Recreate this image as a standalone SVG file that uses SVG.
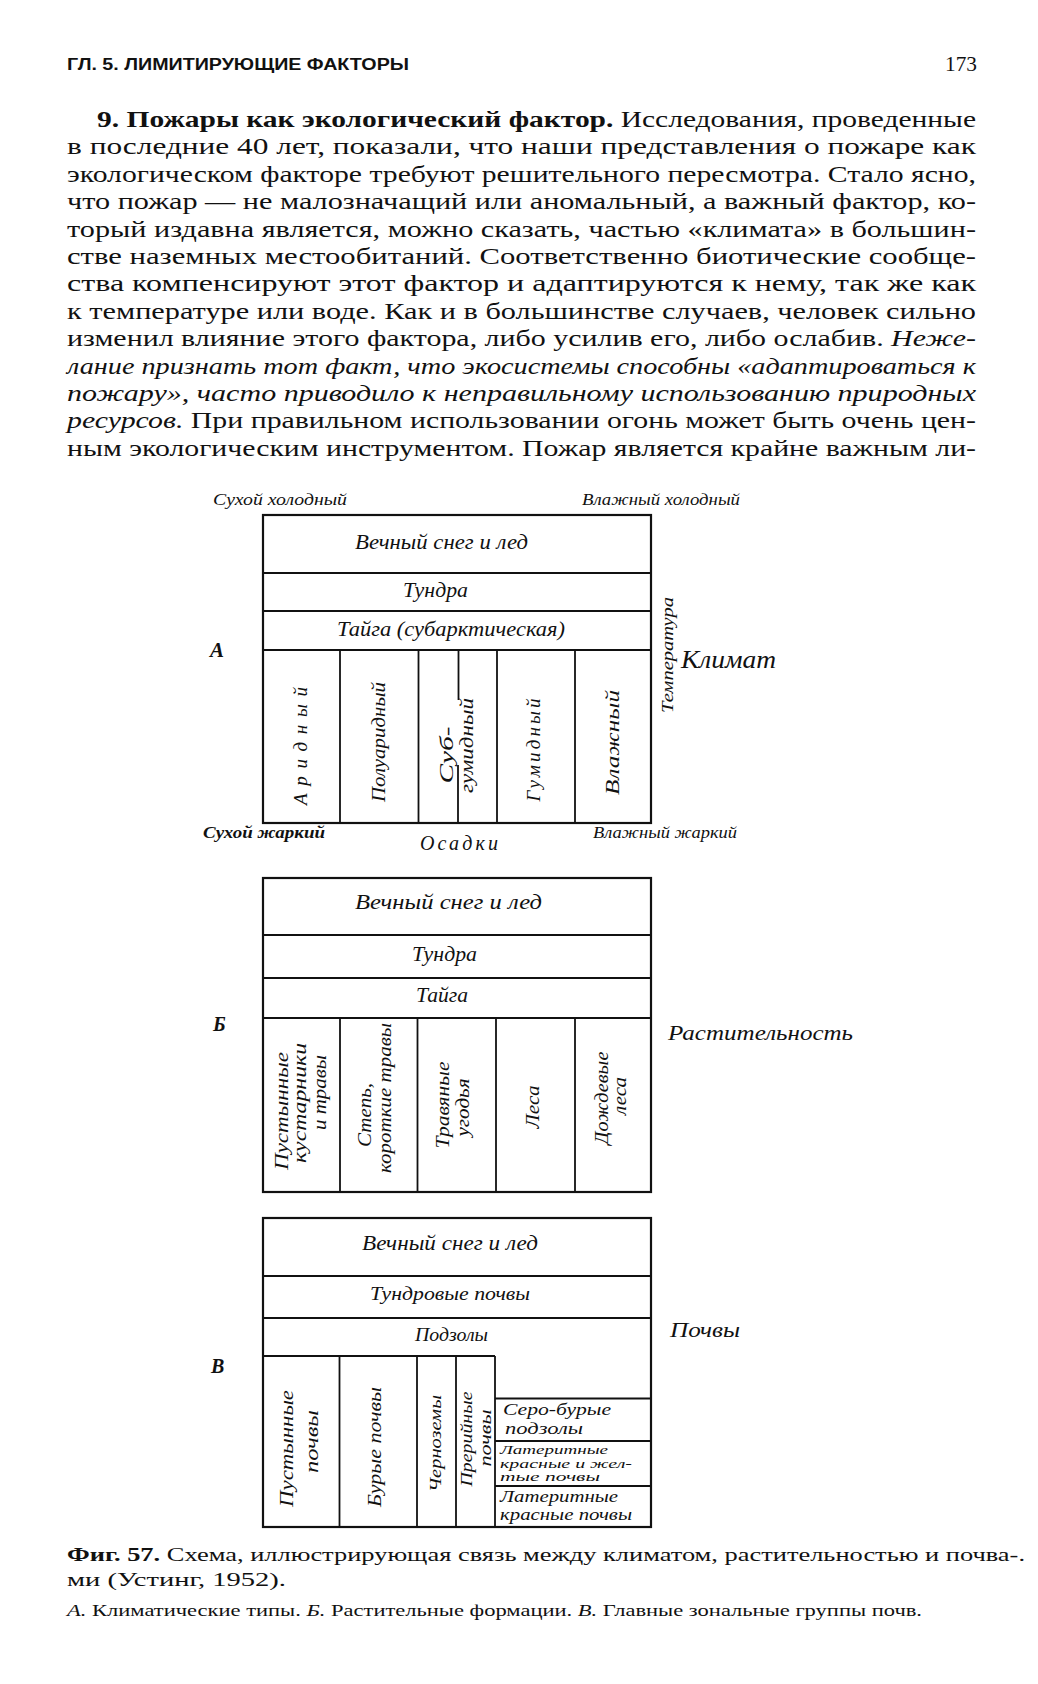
<svg xmlns="http://www.w3.org/2000/svg" width="1038" height="1684" viewBox="0 0 1038 1684">
<style>
  .body{font-family:"Liberation Serif","Times New Roman",serif;font-size:24px;fill:#111}
  .bold{font-weight:bold}
  .it{font-style:italic}
  .hdr{font-family:"Liberation Sans",Arial,sans-serif;font-size:16px;font-weight:bold;fill:#111}
  .lab{font-family:"Liberation Serif","Times New Roman",serif;font-style:italic;fill:#111}
  .c{text-anchor:middle}
  .v{text-anchor:middle;dominant-baseline:central}
  .frame{fill:none;stroke:#111;stroke-width:2.2}
  .ln{stroke:#111;stroke-width:1.8;fill:none}
  .cap{font-family:"Liberation Serif","Times New Roman",serif;font-size:19px;fill:#111}
  .cap2{font-family:"Liberation Serif","Times New Roman",serif;font-size:16px;fill:#111}
</style>
<rect x="0" y="0" width="1038" height="1684" fill="#fff"/>

<g id="header">
  <text class="hdr" x="67" y="70" textLength="342" lengthAdjust="spacingAndGlyphs">ГЛ. 5. ЛИМИТИРУЮЩИЕ ФАКТОРЫ</text>
  <text class="body" x="945" y="71" textLength="32" lengthAdjust="spacingAndGlyphs" style="font-size:21px">173</text>
</g>

<g id="paragraph" class="body">
  <text x="97" y="127" textLength="879" lengthAdjust="spacingAndGlyphs"><tspan class="bold">9. Пожары как экологический фактор.</tspan> Исследования, проведенные</text>
  <text x="67" y="154.4" textLength="909" lengthAdjust="spacingAndGlyphs">в последние 40 лет, показали, что наши представления о пожаре как</text>
  <text x="67" y="181.8" textLength="909" lengthAdjust="spacingAndGlyphs">экологическом факторе требуют решительного пересмотра. Стало ясно,</text>
  <text x="67" y="209.2" textLength="909" lengthAdjust="spacingAndGlyphs">что пожар — не малозначащий или аномальный, а важный фактор, ко-</text>
  <text x="67" y="236.6" textLength="909" lengthAdjust="spacingAndGlyphs">торый издавна является, можно сказать, частью «климата» в большин-</text>
  <text x="67" y="264" textLength="909" lengthAdjust="spacingAndGlyphs">стве наземных местообитаний. Соответственно  биотические  сообще-</text>
  <text x="67" y="291.4" textLength="909" lengthAdjust="spacingAndGlyphs">ства компенсируют этот фактор и адаптируются к нему, так же как</text>
  <text x="67" y="318.8" textLength="909" lengthAdjust="spacingAndGlyphs">к температуре или воде. Как и в большинстве случаев, человек сильно</text>
  <text x="67" y="346.2" textLength="909" lengthAdjust="spacingAndGlyphs">изменил влияние этого фактора, либо усилив его, либо ослабив. <tspan class="it">Неже-</tspan></text>
  <text x="67" y="373.6" textLength="909" lengthAdjust="spacingAndGlyphs" class="it">лание признать тот факт, что экосистемы способны «адаптироваться к</text>
  <text x="67" y="401" textLength="909" lengthAdjust="spacingAndGlyphs" class="it">пожару», часто приводило к неправильному использованию природных</text>
  <text x="67" y="428.4" textLength="909" lengthAdjust="spacingAndGlyphs"><tspan class="it">ресурсов.</tspan> При правильном использовании огонь может быть очень цен-</text>
  <text x="67" y="455.8" textLength="909" lengthAdjust="spacingAndGlyphs">ным экологическим инструментом. Пожар является крайне важным ли-</text>
</g>

<!-- ===== Panel A ===== -->
<g id="panelA-lines">
  <rect class="frame" x="263" y="515" width="388" height="308"/>
  <line class="ln" x1="263" y1="573" x2="651" y2="573"/>
  <line class="ln" x1="263" y1="611" x2="651" y2="611"/>
  <line class="ln" x1="263" y1="650" x2="651" y2="650"/>
  <line class="ln" x1="340" y1="650" x2="340" y2="823"/>
  <line class="ln" x1="418.5" y1="650" x2="418.5" y2="823"/>
  <line class="ln" x1="458.5" y1="650" x2="458.5" y2="700"/>
  <line class="ln" x1="458" y1="765" x2="458" y2="823"/>
  <line class="ln" x1="497" y1="650" x2="497" y2="823"/>
  <line class="ln" x1="575" y1="650" x2="575" y2="823"/>
</g>
<g id="panelA-labels" class="lab">
  <text x="213" y="505" textLength="134" lengthAdjust="spacingAndGlyphs" style="font-size:17px">Сухой холодный</text>
  <text x="582" y="505" textLength="158" lengthAdjust="spacingAndGlyphs" style="font-size:17px">Влажный холодный</text>
  <text x="210" y="657" style="font-size:21px;font-weight:bold">А</text>
  <text x="203" y="838" textLength="122" lengthAdjust="spacingAndGlyphs" style="font-size:17px;font-weight:bold">Сухой жаркий</text>
  <text x="420" y="850" textLength="78" lengthAdjust="spacing" style="font-size:20px">Осадки</text>
  <text x="593" y="838" textLength="144" lengthAdjust="spacingAndGlyphs" style="font-size:17px">Влажный жаркий</text>
  <text class="v" x="667" y="655" transform="rotate(-90 667 655)" textLength="116" lengthAdjust="spacingAndGlyphs" style="font-size:17px">Температура</text>
  <text x="681" y="668" textLength="95" lengthAdjust="spacingAndGlyphs" style="font-size:26px">Климат</text>
</g>
<g id="A-snow" class="lab"><text x="355" y="549" textLength="173" lengthAdjust="spacingAndGlyphs" style="font-size:20px">Вечный  снег и лед</text></g>
<g id="A-tundra" class="lab"><text x="403" y="597" textLength="65" lengthAdjust="spacingAndGlyphs" style="font-size:20px">Тундра</text></g>
<g id="A-taiga" class="lab"><text x="337" y="636" textLength="228" lengthAdjust="spacingAndGlyphs" style="font-size:20px">Тайга (субарктическая)</text></g>
<g id="A-arid" class="lab"><text class="v" x="300" y="746" transform="rotate(-90 300 746)" textLength="118" lengthAdjust="spacing" style="font-size:19px">Аридный</text></g>
<g id="A-semiarid" class="lab"><text class="v" x="378" y="742" transform="rotate(-90 378 742)" textLength="120" lengthAdjust="spacingAndGlyphs" style="font-size:19px">Полуаридный</text></g>
<g id="A-subhumid" class="lab">
  <text class="v" x="446.5" y="755" transform="rotate(-90 446.5 755)" textLength="57" lengthAdjust="spacingAndGlyphs" style="font-size:18px">Суб-</text>
  <text class="v" x="467" y="745.5" transform="rotate(-90 467 745.5)" textLength="95" lengthAdjust="spacingAndGlyphs" style="font-size:18px">гумидный</text>
</g>
<g id="A-humid" class="lab"><text class="v" x="533" y="750" transform="rotate(-90 533 750)" textLength="103" lengthAdjust="spacing" style="font-size:19px">Гумидный</text></g>
<g id="A-wet" class="lab"><text class="v" x="612" y="742.5" transform="rotate(-90 612 742.5)" textLength="105" lengthAdjust="spacingAndGlyphs" style="font-size:19px">Влажный</text></g>

<!-- ===== Panel B ===== -->
<g id="panelB-lines">
  <rect class="frame" x="263" y="878" width="388" height="314"/>
  <line class="ln" x1="263" y1="935" x2="651" y2="935"/>
  <line class="ln" x1="263" y1="978" x2="651" y2="978"/>
  <line class="ln" x1="263" y1="1018" x2="651" y2="1018"/>
  <line class="ln" x1="340" y1="1018" x2="340" y2="1192"/>
  <line class="ln" x1="417.5" y1="1018" x2="417.5" y2="1192"/>
  <line class="ln" x1="496" y1="1018" x2="496" y2="1192"/>
  <line class="ln" x1="575" y1="1018" x2="575" y2="1192"/>
</g>
<g id="panelB-labels" class="lab">
  <text x="213" y="1031" style="font-size:20px;font-weight:bold">Б</text>
  <text x="668" y="1040" textLength="185" lengthAdjust="spacingAndGlyphs" style="font-size:22px">Растительность</text>
</g>
<g id="B-snow" class="lab"><text x="355" y="909" textLength="187" lengthAdjust="spacingAndGlyphs" style="font-size:20px">Вечный  снег и лед</text></g>
<g id="B-tundra" class="lab"><text x="412" y="961" textLength="65" lengthAdjust="spacingAndGlyphs" style="font-size:20px">Тундра</text></g>
<g id="B-taiga" class="lab"><text x="416" y="1002" textLength="52" lengthAdjust="spacingAndGlyphs" style="font-size:20px">Тайга</text></g>
<g id="B-desert" class="lab">
  <text class="v" x="282" y="1111" transform="rotate(-90 282 1111)" textLength="118" lengthAdjust="spacingAndGlyphs" style="font-size:18px">Пустынные</text>
  <text class="v" x="300" y="1103" transform="rotate(-90 300 1103)" textLength="120" lengthAdjust="spacingAndGlyphs" style="font-size:18px">кустарники</text>
  <text class="v" x="320" y="1092.5" transform="rotate(-90 320 1092.5)" textLength="75" lengthAdjust="spacingAndGlyphs" style="font-size:18px">и травы</text>
</g>
<g id="B-steppe" class="lab">
  <text class="v" x="365" y="1115" transform="rotate(-90 365 1115)" textLength="64" lengthAdjust="spacingAndGlyphs" style="font-size:18px">Степь,</text>
  <text class="v" x="385" y="1098" transform="rotate(-90 385 1098)" textLength="150" lengthAdjust="spacingAndGlyphs" style="font-size:18px">короткие травы</text>
</g>
<g id="B-grass" class="lab">
  <text class="v" x="443" y="1105" transform="rotate(-90 443 1105)" textLength="87" lengthAdjust="spacingAndGlyphs" style="font-size:18px">Травяные</text>
  <text class="v" x="463" y="1107.5" transform="rotate(-90 463 1107.5)" textLength="58" lengthAdjust="spacingAndGlyphs" style="font-size:18px">угодья</text>
</g>
<g id="B-forest" class="lab"><text class="v" x="533" y="1107" transform="rotate(-90 533 1107)" textLength="43" lengthAdjust="spacingAndGlyphs" style="font-size:18px">Леса</text></g>
<g id="B-rain" class="lab">
  <text class="v" x="601.5" y="1098" transform="rotate(-90 601.5 1098)" textLength="93" lengthAdjust="spacingAndGlyphs" style="font-size:18px">Дождевые</text>
  <text class="v" x="620" y="1096" transform="rotate(-90 620 1096)" textLength="38" lengthAdjust="spacingAndGlyphs" style="font-size:18px">леса</text>
</g>

<!-- ===== Panel C ===== -->
<g id="panelC-lines">
  <rect class="frame" x="263" y="1218" width="388" height="309"/>
  <line class="ln" x1="263" y1="1276" x2="651" y2="1276"/>
  <line class="ln" x1="263" y1="1318" x2="651" y2="1318"/>
  <line class="ln" x1="263" y1="1356" x2="495" y2="1356"/>
  <line class="ln" x1="339.5" y1="1356" x2="339.5" y2="1527"/>
  <line class="ln" x1="417" y1="1356" x2="417" y2="1527"/>
  <line class="ln" x1="456" y1="1356" x2="456" y2="1527"/>
  <line class="ln" x1="495" y1="1356" x2="495" y2="1527"/>
  <line class="ln" x1="495" y1="1398.5" x2="651" y2="1398.5"/>
  <line class="ln" x1="495" y1="1441" x2="651" y2="1441"/>
  <line class="ln" x1="495" y1="1486" x2="651" y2="1486"/>
</g>
<g id="panelC-labels" class="lab">
  <text x="211" y="1373" style="font-size:20px;font-weight:bold">В</text>
  <text x="670" y="1337" textLength="70" lengthAdjust="spacingAndGlyphs" style="font-size:21px">Почвы</text>
</g>
<g id="C-snow" class="lab"><text x="362" y="1250" textLength="176" lengthAdjust="spacingAndGlyphs" style="font-size:20px">Вечный  снег и лед</text></g>
<g id="C-tundra" class="lab"><text x="370" y="1300" textLength="160" lengthAdjust="spacingAndGlyphs" style="font-size:19px">Тундровые почвы</text></g>
<g id="C-podzol" class="lab"><text x="415" y="1341" textLength="73" lengthAdjust="spacingAndGlyphs" style="font-size:19px">Подзолы</text></g>
<g id="C-desert" class="lab">
  <text class="v" x="287" y="1448.5" transform="rotate(-90 287 1448.5)" textLength="117" lengthAdjust="spacingAndGlyphs" style="font-size:18px">Пустынные</text>
  <text class="v" x="311.5" y="1441.5" transform="rotate(-90 311.5 1441.5)" textLength="63" lengthAdjust="spacingAndGlyphs" style="font-size:18px">почвы</text>
</g>
<g id="C-brown" class="lab"><text class="v" x="375" y="1447" transform="rotate(-90 375 1447)" textLength="120" lengthAdjust="spacingAndGlyphs" style="font-size:18px">Бурые  почвы</text></g>
<g id="C-chern" class="lab"><text class="v" x="435" y="1443.5" transform="rotate(-90 435 1443.5)" textLength="97" lengthAdjust="spacingAndGlyphs" style="font-size:17px">Черноземы</text></g>
<g id="C-prairie" class="lab">
  <text class="v" x="466.5" y="1439" transform="rotate(-90 466.5 1439)" textLength="95" lengthAdjust="spacingAndGlyphs" style="font-size:17px">Прерийные</text>
  <text class="v" x="485" y="1438" transform="rotate(-90 485 1438)" textLength="57" lengthAdjust="spacingAndGlyphs" style="font-size:17px">почвы</text>
</g>
<g id="C-greybrown" class="lab">
  <text x="503" y="1415" textLength="108" lengthAdjust="spacingAndGlyphs" style="font-size:17px">Серо-бурые</text>
  <text x="505" y="1434" textLength="78" lengthAdjust="spacingAndGlyphs" style="font-size:17px">подзолы</text>
</g>
<g id="C-lat-ry" class="lab">
  <text x="500" y="1454" textLength="108" lengthAdjust="spacingAndGlyphs" style="font-size:12.5px">Латеритные</text>
  <text x="500" y="1467.5" textLength="132" lengthAdjust="spacingAndGlyphs" style="font-size:12.5px">красные и жел-</text>
  <text x="500" y="1481" textLength="100" lengthAdjust="spacingAndGlyphs" style="font-size:12.5px">тые почвы</text>
</g>
<g id="C-lat-r" class="lab">
  <text x="500" y="1502" textLength="118" lengthAdjust="spacingAndGlyphs" style="font-size:16px">Латеритные</text>
  <text x="500" y="1520" textLength="132" lengthAdjust="spacingAndGlyphs" style="font-size:16px">красные почвы</text>
</g>

<g id="connectors"></g>

<g id="caption">
  <text class="cap" x="67" y="1561" textLength="958" lengthAdjust="spacingAndGlyphs"><tspan class="bold">Фиг. 57.</tspan> Схема, иллюстрирующая связь между климатом, растительностью и почва-.</text>
  <text class="cap" x="67" y="1586" textLength="219" lengthAdjust="spacingAndGlyphs">ми (Устинг, 1952).</text>
  <text class="cap2" x="67" y="1616" textLength="855" lengthAdjust="spacingAndGlyphs"><tspan class="it">А.</tspan> Климатические типы. <tspan class="it">Б.</tspan> Растительные формации. <tspan class="it">В.</tspan> Главные зональные группы почв.</text>
</g>
</svg>
